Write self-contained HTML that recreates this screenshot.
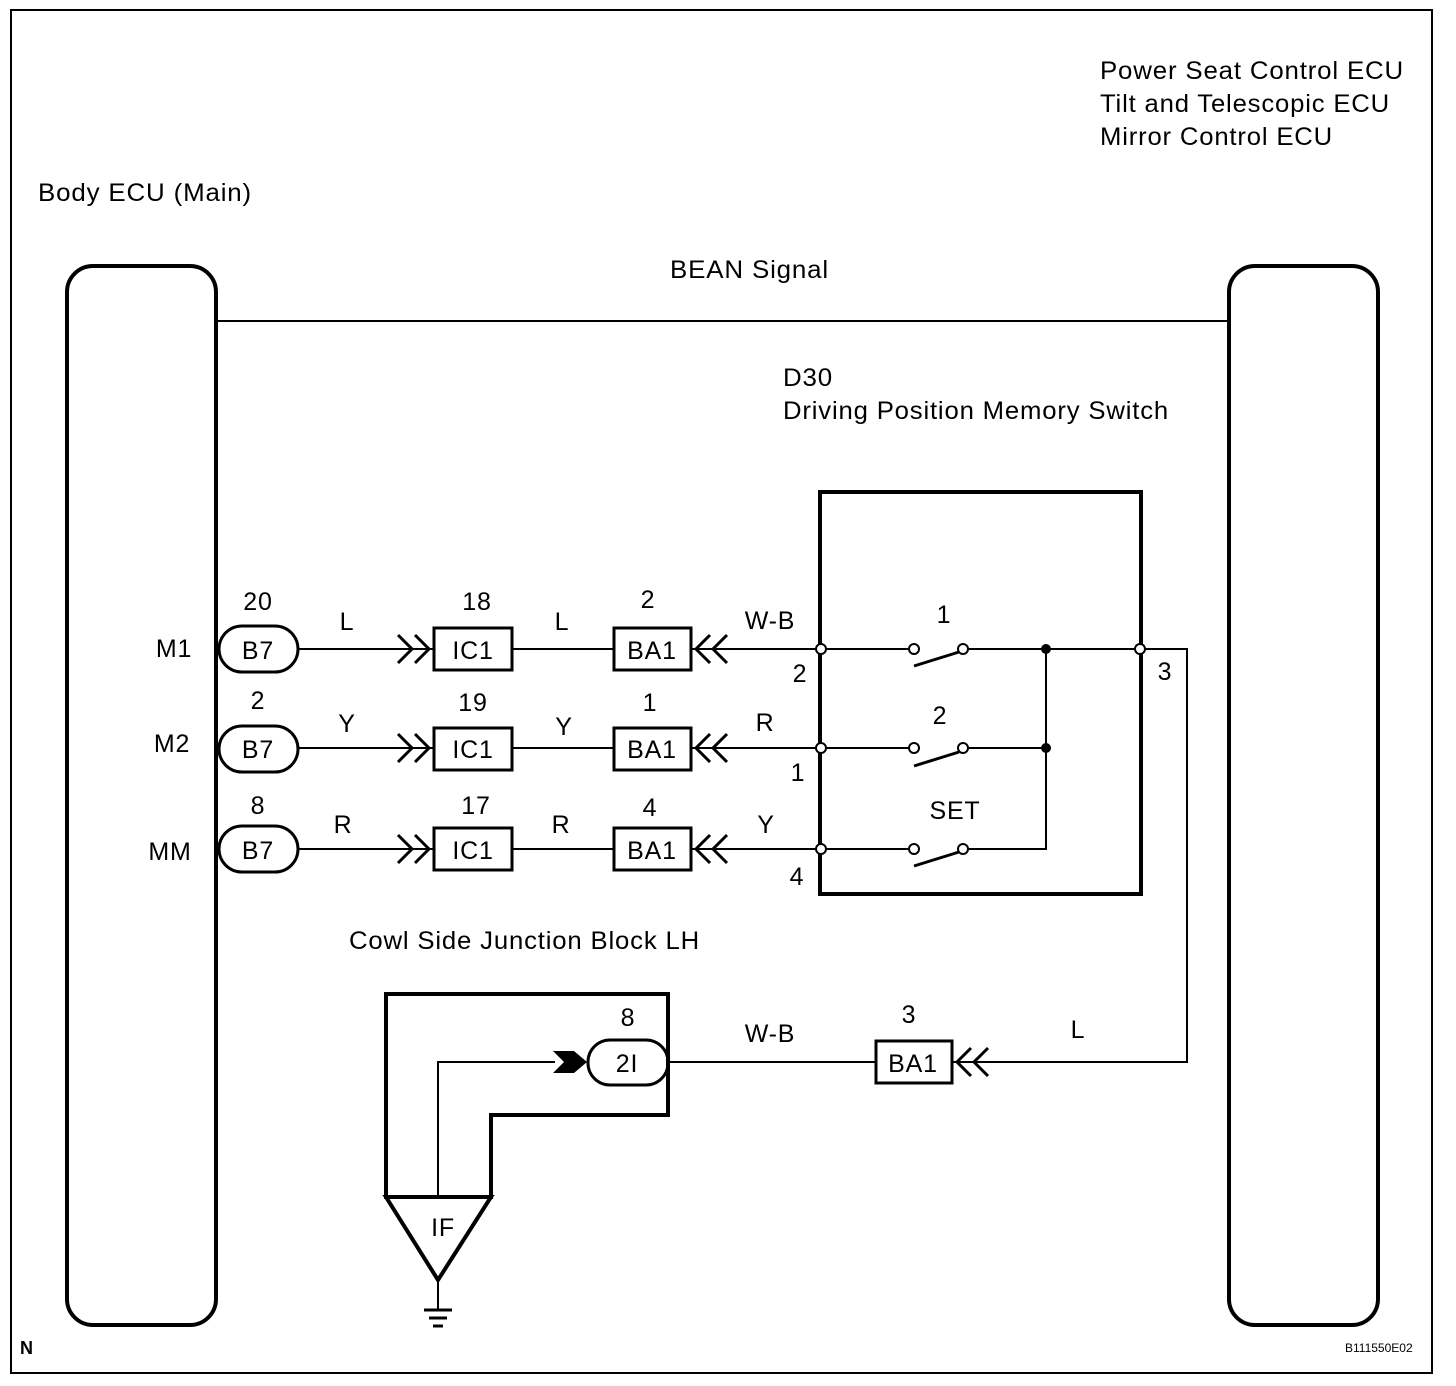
<!DOCTYPE html>
<html><head><style>html,body{margin:0;padding:0;background:#fff}svg{display:block}text{font-family:"Liberation Sans",sans-serif;font-size:25px;fill:#000;letter-spacing:0.8px}</style></head><body>
<svg width="1456" height="1386" viewBox="0 0 1456 1386" xmlns="http://www.w3.org/2000/svg">
<rect x="11" y="10" width="1421" height="1363" fill="none" stroke="#000" stroke-width="2"/>
<g fill="none" stroke="#000" stroke-width="4">
<rect x="67" y="266" width="149" height="1059" rx="26"/>
<rect x="1229" y="266" width="149" height="1059" rx="26"/>
<rect x="820" y="492" width="321" height="402"/>
<polygon points="386,994 668,994 668,1115 491,1115 491,1197 386,1197"/>
<polygon points="386,1197 491,1197 438,1280"/>
</g>
<g fill="none" stroke="#000" stroke-width="2">
<line x1="216" y1="321" x2="1229" y2="321"/>
<line x1="298" y1="649" x2="433" y2="649"/><line x1="512" y1="649" x2="613" y2="649"/><line x1="692" y1="649" x2="909" y2="649"/>
<line x1="298" y1="748" x2="433" y2="748"/><line x1="512" y1="748" x2="613" y2="748"/><line x1="692" y1="748" x2="909" y2="748"/>
<line x1="298" y1="849" x2="433" y2="849"/><line x1="512" y1="849" x2="613" y2="849"/><line x1="692" y1="849" x2="909" y2="849"/>
<line x1="968" y1="649" x2="1136" y2="649"/><line x1="968" y1="748" x2="1046" y2="748"/><polyline points="968,849 1046,849 1046,649"/>
<polyline points="1145,649 1187,649 1187,1062 953,1062"/>
<line x1="668" y1="1062" x2="875" y2="1062"/>
<polyline points="438,1197 438,1062 555,1062"/>
<line x1="438" y1="1280" x2="438" y2="1310"/>
</g>
<g fill="none" stroke="#000" stroke-width="3">
<path d="M398,635 L412,649 L398,663 M415,635 L429,649 L415,663"/>
<path d="M398,734 L412,748 L398,762 M415,734 L429,748 L415,762"/>
<path d="M398,835 L412,849 L398,863 M415,835 L429,849 L415,863"/>
<path d="M710,635 L696,649 L710,663 M727,635 L713,649 L727,663"/>
<path d="M710,734 L696,748 L710,762 M727,734 L713,748 L727,762"/>
<path d="M710,835 L696,849 L710,863 M727,835 L713,849 L727,863"/>
<path d="M971,1048 L957,1062 L971,1076 M988,1048 L974,1062 L988,1076"/>
<line x1="914" y1="666" x2="959" y2="652"/><line x1="914" y1="766" x2="959" y2="752"/><line x1="914" y1="866" x2="959" y2="852"/>
<rect x="219" y="626" width="79" height="46" rx="23"/>
<rect x="219" y="726" width="79" height="46" rx="23"/>
<rect x="219" y="826" width="79" height="46" rx="23"/>
<rect x="588" y="1040" width="80" height="45" rx="22"/>
<rect x="434" y="628" width="78" height="42"/><rect x="434" y="728" width="78" height="42"/><rect x="434" y="828" width="78" height="42"/>
<rect x="614" y="628" width="77" height="42"/><rect x="614" y="728" width="77" height="42"/><rect x="614" y="828" width="77" height="42"/>
<rect x="876" y="1041" width="76" height="42"/>
<line x1="424" y1="1310" x2="452" y2="1310"/><line x1="429" y1="1318" x2="447" y2="1318"/><line x1="433" y1="1326" x2="443" y2="1326"/>
</g>
<polygon points="553,1051 574,1051 587,1062 574,1073 553,1073 564,1062" fill="#000"/>
<g fill="#fff" stroke="#000" stroke-width="2">
<circle cx="821" cy="649" r="5"/><circle cx="821" cy="748" r="5"/><circle cx="821" cy="849" r="5"/>
<circle cx="914" cy="649" r="5"/><circle cx="963" cy="649" r="5"/>
<circle cx="914" cy="748" r="5"/><circle cx="963" cy="748" r="5"/>
<circle cx="914" cy="849" r="5"/><circle cx="963" cy="849" r="5"/>
<circle cx="1140" cy="649" r="5"/>
</g>
<circle cx="1046" cy="649" r="5" fill="#000"/><circle cx="1046" cy="748" r="5" fill="#000"/>
<text x="1100" y="79" textLength="304" lengthAdjust="spacingAndGlyphs">Power Seat Control ECU</text>
<text x="1100" y="112" textLength="290" lengthAdjust="spacingAndGlyphs">Tilt and Telescopic ECU</text>
<text x="1100" y="145" textLength="233" lengthAdjust="spacingAndGlyphs">Mirror Control ECU</text>
<text x="38" y="201" textLength="214" lengthAdjust="spacingAndGlyphs">Body ECU (Main)</text>
<text x="670" y="278" textLength="159" lengthAdjust="spacingAndGlyphs">BEAN Signal</text>
<text x="783" y="386" textLength="50" lengthAdjust="spacingAndGlyphs">D30</text>
<text x="783" y="419" textLength="386" lengthAdjust="spacingAndGlyphs">Driving Position Memory Switch</text>
<text x="349" y="949" textLength="351" lengthAdjust="spacingAndGlyphs">Cowl Side Junction Block LH</text>
<g text-anchor="middle">
<text x="258" y="610">20</text><text x="258" y="709">2</text><text x="258" y="814">8</text>
<text x="258" y="659">B7</text><text x="258" y="758">B7</text><text x="258" y="859">B7</text>
<text x="347" y="630">L</text><text x="347" y="732">Y</text><text x="343" y="833">R</text>
<text x="477" y="610">18</text><text x="473" y="711">19</text><text x="476" y="814">17</text>
<text x="473" y="659">IC1</text><text x="473" y="758">IC1</text><text x="473" y="859">IC1</text>
<text x="562" y="630">L</text><text x="564" y="735">Y</text><text x="561" y="833">R</text>
<text x="648" y="608">2</text><text x="650" y="711">1</text><text x="650" y="816">4</text>
<text x="652" y="659">BA1</text><text x="652" y="758">BA1</text><text x="652" y="859">BA1</text>
<text x="770" y="629">W-B</text><text x="765" y="731">R</text><text x="766" y="833">Y</text>
<text x="800" y="682">2</text><text x="798" y="781">1</text><text x="797" y="885">4</text>
<text x="944" y="623">1</text><text x="940" y="724">2</text><text x="955" y="819">SET</text>
<text x="1165" y="680">3</text>
<text x="628" y="1026">8</text><text x="627" y="1072">2I</text>
<text x="770" y="1042">W-B</text>
<text x="909" y="1023">3</text><text x="913" y="1072">BA1</text>
<text x="1078" y="1038">L</text>
<text x="443" y="1236">IF</text>
<text x="174" y="657">M1</text>
<text x="172" y="752">M2</text>
<text x="170" y="860">MM</text>
</g>
<text x="20" y="1354" style="font-size:18px;font-weight:bold">N</text>
<text x="1345" y="1352" style="font-size:12px;letter-spacing:0">B111550E02</text>
</svg>
</body></html>
